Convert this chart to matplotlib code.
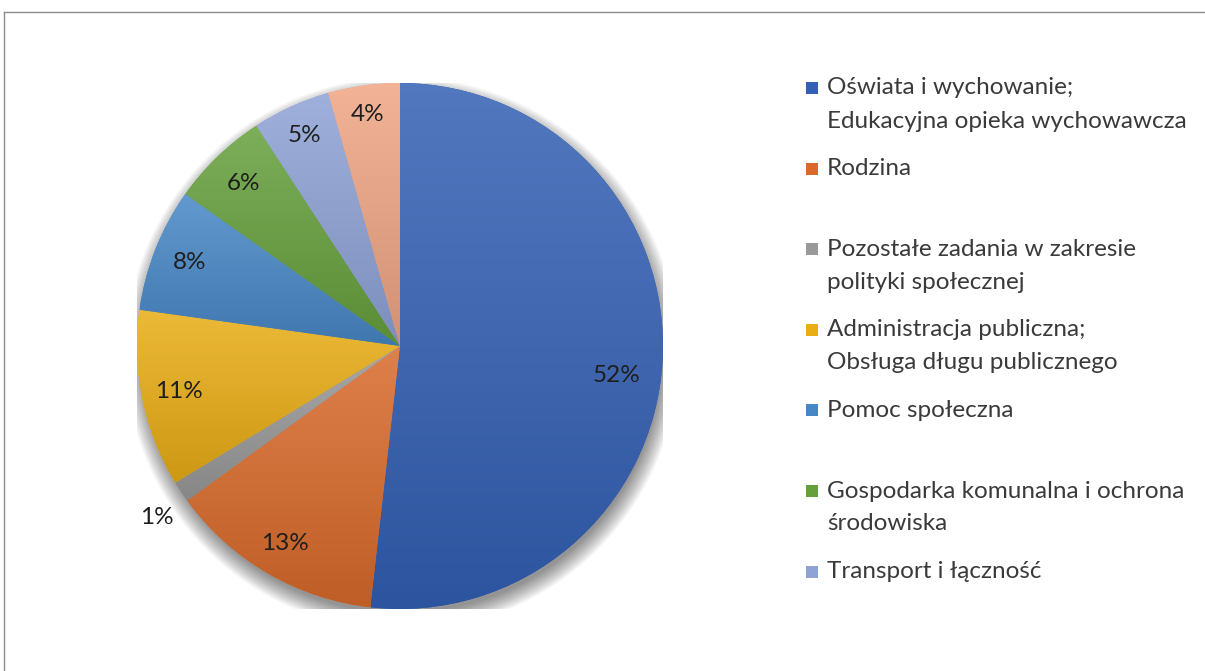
import numpy as np
import matplotlib.pyplot as plt
from matplotlib.colors import to_rgb
from matplotlib.patches import Circle, Rectangle
from matplotlib.lines import Line2D

# data
categories = [
    "Oświata i wychowanie;\nEdukacyjna opieka wychowawcza",
    "Rodzina",
    "Pozostałe zadania w zakresie\npolityki społecznej",
    "Administracja publiczna;\nObsługa długu publicznego",
    "Pomoc społeczna",
    "Gospodarka komunalna i ochrona\nśrodowiska",
    "Transport i łączność",
    "",
]
shares = [51.8, 13.2, 1.3, 10.9, 7.6, 6.0, 4.8, 4.4]
colors = ["#3360b4", "#d96a2b", "#999999", "#e9ad15",
          "#4787c6", "#66a03d", "#8ea2d6", "#efa584"]
label_dist = [0.83, 0.87, 1.13, 0.86, 0.86, 0.86, 0.88, 0.89]
label_turn = [-4.5, 0, 1.5, 0, 0, 0, 0, 0]   # degrees

plt.rcParams['font.family'] = ['Lato', 'DejaVu Sans']

W, H = 1205, 671
fig = plt.figure(figsize=(W / 100, H / 100), dpi=100)

cx, cy, r = 400, 346, 263
ax = fig.add_axes([(cx - r) / W, (H - cy - r) / H, 2 * r / W, 2 * r / H])

# soft shadow under the pie
for k in range(16):
    ax.add_patch(Circle((0.008, -0.03), 0.985 + 0.0045 * k, color='k',
                        alpha=0.03, lw=0, zorder=0.5))

wedges, texts, autotexts = ax.pie(
    shares, colors=colors, startangle=90, counterclock=False, radius=1,
    autopct='%.0f%%', pctdistance=0.85,
    wedgeprops=dict(linewidth=0, zorder=1),
    textprops=dict(fontsize=17.5, color='#1e1e1e'))


def mix(c, other, t):
    c = np.array(to_rgb(c))
    return c * (1 - t) + np.array(other) * t


# top-light to bottom-dark gradient per slice
for w, c in zip(wedges, colors):
    bb = w.get_path().get_extents()
    top = mix(c, (1, 1, 1), 0.15)
    bot = mix(c, (0, 0, 0), 0.12)
    t = np.linspace(0, 1, 256)[:, None, None]
    img = top[None, None, :] * (1 - t) + bot[None, None, :] * t
    im = ax.imshow(img, extent=[bb.x0, bb.x1, bb.y0, bb.y1], origin='upper',
                   aspect='auto', interpolation='bilinear', zorder=1.5)
    im.set_clip_path(w)

for w, at, d, turn in zip(wedges, autotexts, label_dist, label_turn):
    th = np.deg2rad((w.theta1 + w.theta2) / 2 + turn)
    at.set_position((d * np.cos(th), d * np.sin(th)))
    at.set_zorder(3)

ax.set_xlim(-1, 1)
ax.set_ylim(-1, 1)
ax.axis('off')

# legend, one slot per entry
leg_y0, leg_step, line_step = 88, 80.6, 33
for i, (lab, c) in enumerate(zip(categories[:7], colors[:7])):
    y = leg_y0 + leg_step * i
    fig.add_artist(Rectangle((806 / W, 1 - (y + 6) / H), 12 / W, 12 / H,
                             transform=fig.transFigure, color=c, lw=0))
    for j, line in enumerate(lab.split("\n")):
        fig.text(827 / W, 1 - (y + line_step * j) / H, line, fontsize=17.5,
                 color='#3a3a3a', va='center', ha='left')

# chart border (cut at right and bottom)
fig.add_artist(Line2D([4 / W, 4 / W], [0, 1 - 12 / H], transform=fig.transFigure,
                      color='#8c8c8c', lw=1))
fig.add_artist(Line2D([4 / W, 1], [1 - 12 / H, 1 - 12 / H], transform=fig.transFigure,
                      color='#8c8c8c', lw=1))

fig.savefig("out.png", dpi=100)
